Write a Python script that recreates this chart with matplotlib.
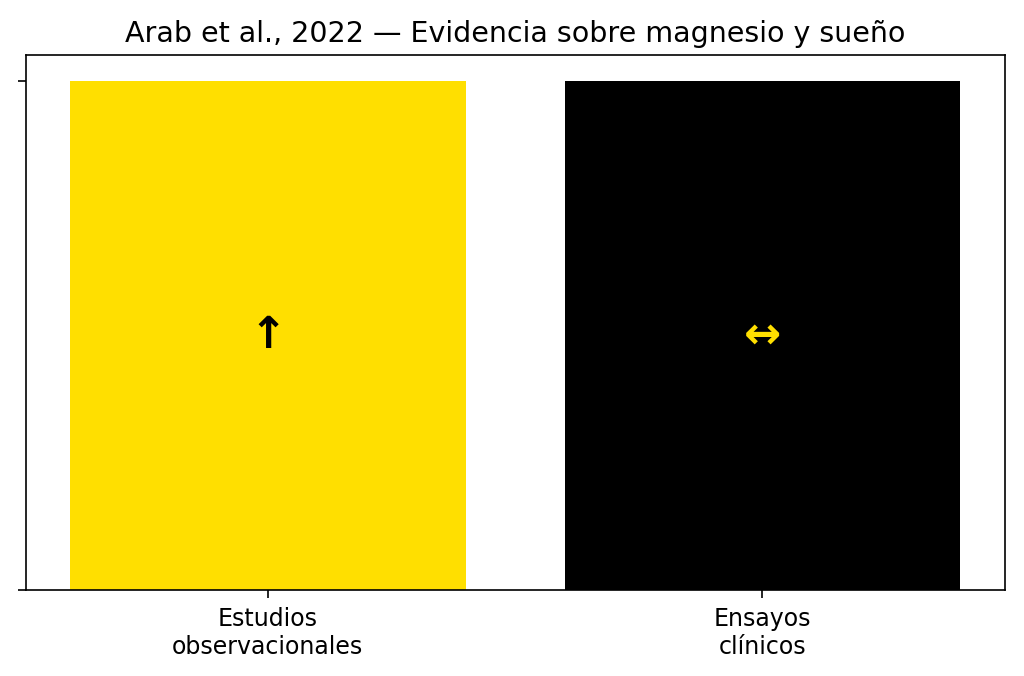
import matplotlib.pyplot as plt

categories = ["Estudios\nobservacionales", "Ensayos\nclínicos"]
heights = [1, 1]
symbols = ["↑", "↔"]
bar_colors = ["#FFDF00", "#000000"]
symbol_colors = ["#000000", "#FFDF00"]

fig, ax = plt.subplots(figsize=(10.24, 6.76), dpi=100)
bars = ax.bar(range(len(categories)), heights, color=bar_colors, width=0.8)

# simbolo en el centro de cada barra
for i, (h, s, c) in enumerate(zip(heights, symbols, symbol_colors)):
    ax.text(i, h / 2, s, ha="center", va="center", fontsize=32,
            fontweight="bold", color=c)

ax.set_xticks(range(len(categories)))
ax.set_xticklabels(categories, fontsize=17)
ax.set_yticks([0, 1])
ax.set_yticklabels(["", ""])
ax.tick_params(length=6, width=1.2, pad=6)
for sp in ax.spines.values():
    sp.set_linewidth(1.2)
ax.set_title("Arab et al., 2022 — Evidencia sobre magnesio y sueño", fontsize=20.5, pad=10)

plt.subplots_adjust(left=0.025, right=0.981, top=0.918, bottom=0.127)
fig.savefig("out.png", dpi=100)
